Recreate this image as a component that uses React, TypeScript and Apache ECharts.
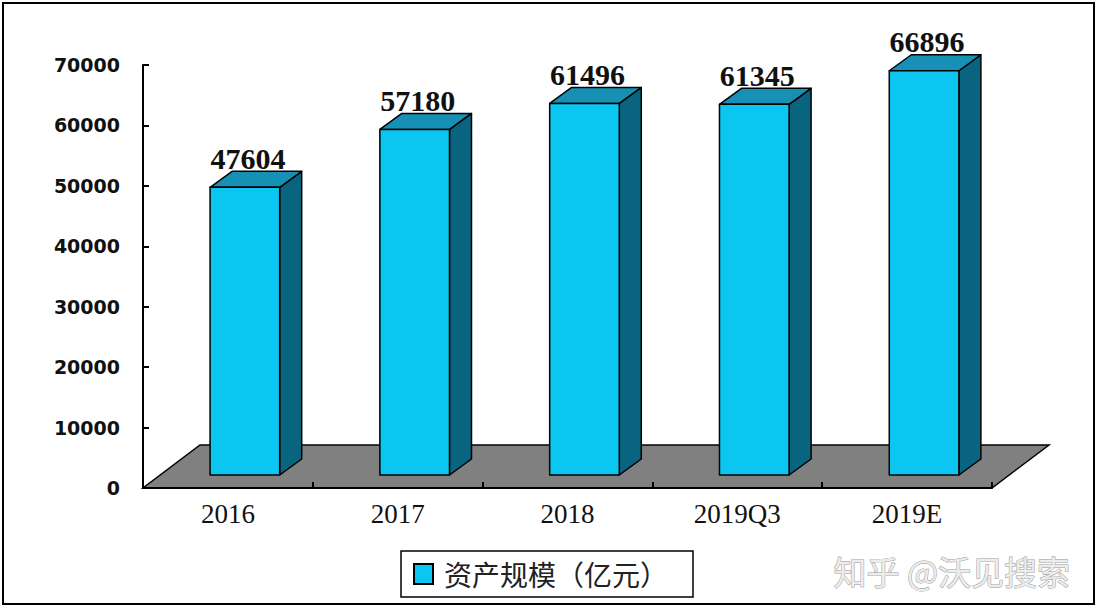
import React, { useEffect, useRef } from "react";
import * as echarts from "echarts";

const categories = ["2016", "2017", "2018", "2019Q3", "2019E"];
const assetScale = [47604, 57180, 61496, 61345, 66896];
const seriesName = "资产规模（亿元）";
const yMin = 0;
const yMax = 70000;
const yInterval = 10000;

const FRONT = "#0bc6f0";
const TOP = "#1790b6";
const SIDE = "#08647f";

export default function App() {
  const ref = useRef<HTMLDivElement>(null);
  useEffect(() => {
    const chart = echarts.init(ref.current!, null, { renderer: "svg" });
    const option: any = {
      animation: false,
      backgroundColor: "#ffffff",
      grid: { left: 143, right: 106, top: 65, bottom: 120 },
      xAxis: {
        type: "category",
        data: categories,
        z: 10,
        axisLine: { lineStyle: { color: "#000", width: 2 } },
        axisTick: { show: true, inside: true, length: 6, lineStyle: { color: "#000", width: 2 } },
        axisLabel: { fontFamily: "Liberation Serif", fontSize: 27, color: "#111", margin: 12 },
      },
      yAxis: {
        type: "value",
        min: yMin,
        max: yMax,
        interval: yInterval,
        z: 10,
        splitLine: { show: false },
        axisLine: { show: true, lineStyle: { color: "#000", width: 2 } },
        axisTick: { show: true, inside: true, length: 6, lineStyle: { color: "#000", width: 2 } },
        axisLabel: {
          fontFamily: "DejaVu Sans",
          fontWeight: "bold",
          fontSize: 19,
          color: "#111",
          margin: 23,
          formatter: (v: number) => String(v),
        },
      },
      legend: {
        data: [{ name: seriesName, icon: "rect" }],
        left: 401,
        top: 551,
        itemWidth: 19,
        itemHeight: 20,
        padding: [9, 25, 9, 12],
        borderColor: "#000",
        borderWidth: 1.5,
        borderRadius: 0,
        backgroundColor: "#fff",
        selectedMode: false,
        textStyle: { fontFamily: "Noto Sans CJK SC", fontSize: 28, color: "#222", padding: [0, 0, 0, 6] },
      },
      series: [
        {
          type: "custom",
          name: "floor",
          silent: true,
          z: 1,
          data: [[0, 0]],
          renderItem: (params: any, api: any) => {
            const p0 = api.coord([0, 0]);
            const bw = api.size([1, 0])[0];
            const xl = p0[0] - bw / 2;
            const xr = xl + bw * categories.length;
            const y = p0[1];
            return {
              type: "polygon",
              shape: { points: [[xl, y], [xr, y], [xr + 57, y - 43], [xl + 57, y - 43]] },
              style: { fill: "#808080", stroke: "#000", lineWidth: 1.5 },
            };
          },
        },
        {
          type: "custom",
          name: seriesName,
          z: 3,
          itemStyle: { color: FRONT, borderColor: "#000", borderWidth: 1.5 },
          data: assetScale.map((v, i) => [i, v]),
          renderItem: (params: any, api: any) => {
            const i = api.value(0);
            const v = api.value(1);
            const base = api.coord([i, 0]);
            const top = api.coord([i, v]);
            const bw = api.size([1, 0])[0];
            const w = bw * 0.41;
            const cx = base[0] + bw * 0.1;
            const x1 = cx - w / 2;
            const x2 = cx + w / 2;
            const yb = base[1] - 13;
            const yt = top[1] - 13;
            const dx = 22;
            const dy = -16;
            const stroke = { stroke: "#000", lineWidth: 1.5, lineJoin: "round" };
            return {
              type: "group",
              children: [
                {
                  type: "polygon",
                  shape: { points: [[x2, yb], [x2 + dx, yb + dy], [x2 + dx, yt + dy], [x2, yt]] },
                  style: { fill: SIDE, ...stroke },
                },
                {
                  type: "polygon",
                  shape: { points: [[x1, yt], [x2, yt], [x2 + dx, yt + dy], [x1 + dx, yt + dy]] },
                  style: { fill: TOP, ...stroke },
                },
                {
                  type: "rect",
                  shape: { x: x1, y: yt, width: w, height: yb - yt },
                  style: { fill: FRONT, ...stroke },
                },
                {
                  type: "text",
                  style: {
                    text: String(v),
                    x: cx + 3,
                    y: yt + dy - 13,
                    align: "center",
                    verticalAlign: "middle",
                    font: 'bold 30px "Liberation Serif"',
                    fill: "#111",
                  },
                },
              ],
            };
          },
        },
      ],
      graphic: [
        {
          type: "rect",
          shape: { x: 3, y: 3, width: 1091, height: 601 },
          style: { fill: "none", stroke: "#000", lineWidth: 2 },
          silent: true,
          z: 100,
        },
        {
          type: "text",
          left: 833,
          top: 554,
          style: {
            text: "知乎 @沃见搜索",
            font: '33px "Noto Sans CJK SC"',
            fill: "#ececec",
            stroke: "#9c9c9c",
            lineWidth: 1,
          },
          silent: true,
          z: 100,
        },
      ],
    };
    chart.setOption(option);
    return () => chart.dispose();
  }, []);
  return (
    <div
      ref={ref}
      style={{ position: "fixed", left: 0, top: 0, width: 1098, height: 608 }}
    />
  );
}
